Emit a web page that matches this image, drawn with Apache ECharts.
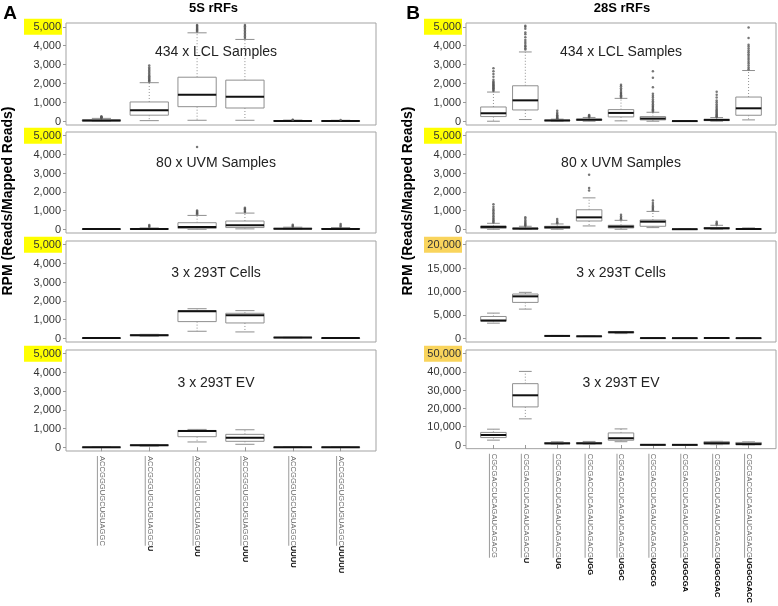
<!DOCTYPE html>
<html><head><meta charset="utf-8">
<script src="https://cdn.jsdelivr.net/npm/echarts@6/dist/echarts.min.js"></script>
<style>html,body{margin:0;padding:0;background:#fff}#c{width:778px;height:606px}</style>
</head><body><div id="c"></div>
<script>
const FONT = '"Liberation Sans", Arial, sans-serif';
const panelTitles = ['5S rRFs', '28S rRFs'];
const panelLetters = ['A', 'B'];
const yAxisTitle = 'RPM (Reads/Mapped Reads)';
const rowLabels = ['434 x LCL Samples', '80 x UVM Samples', '3 x 293T Cells', '3 x 293T EV'];

// category labels: common prefix + bold suffix
const prefixA = 'ACCGGGUGCUGUAGGC';
const suffixesA = ['', 'U', 'UU', 'UUU', 'UUUU', 'UUUUU'];
const prefixB = 'CGCGACCUCAGAUCAGACG';
const suffixesB = ['', 'U', 'UG', 'UGG', 'UGGC', 'UGGCG', 'UGGCGA', 'UGGCGAC', 'UGGCGACC'];

// tick labels
const ticks5k = [0, 1000, 2000, 3000, 4000, 5000];
const ticks20k = [0, 5000, 10000, 15000, 20000];
const ticks50k = [0, 10000, 20000, 30000, 40000, 50000];

// boxes: [lower whisker, Q1, median, Q3, upper whisker]
const A_LCL = [[0,10,40,70,150],[30,320,580,1020,2040],[50,770,1400,2330,4680],[50,700,1300,2175,4330],[0,5,15,30,60],[0,5,12,25,50]];
const A_LCL_out = [[170,190,210,230,260],[2100,2150,2200,2260,2320,2380,2450,2520,2600,2680,2760,2850,2950],[4750,4800,4850,4900,4950,5000,5050,5100],[4400,4480,4560,4640,4720,4800,4880,4950,5030,5100],[70,80],[60]];
const A_UVM = [[0,2,8,15,30],[0,5,15,30,70],[0,50,125,350,740],[20,90,210,440,865],[0,10,25,50,110],[0,8,20,40,90]];
const A_UVM_out = [[],[120,180,230],[800,850,900,950,1000,4400],[920,980,1050,1100,1150],[140,190,245],[130,200,280]];
const A_CELL = [[0,5,10,15,20],[110,140,165,190,210],[374,890,1440,1480,1580],[338,818,1228,1335,1477],[20,30,40,45,50],[0,5,10,15,20]];
const A_CELL_out = [[],[],[],[],[],[]];
const A_EV = [[0,2,5,8,10],[60,90,110,130,150],[283,565,866,900,954],[159,318,512,690,936],[0,3,6,10,15],[0,2,5,8,12]];
const A_EV_out = [[],[],[],[],[],[]];

const B_LCL = [[0,246,421,754,1544],[88,596,1105,1877,3667],[0,20,40,60,110],[0,50,80,110,200],[20,228,439,614,1210],[0,70,140,246,474],[0,3,8,15,30],[0,30,70,100,193],[70,316,684,1280,2684]];
const B_LCL_out = [
  [1600,1650,1700,1750,1800,1850,1900,1950,2000,2050,2100,2200,2350,2500,2650,2800],
  [3800,3860,3950,4000,4100,4200,4300,4450,4600,4700,4900,5000,5050],
  [130,160,200,240,280,320,380,450,560],
  [230,260,300,330],
  [1260,1320,1380,1440,1500,1560,1650,1750,1850,1930],
  [520,580,640,700,760,820,900,980,1060,1150,1250,1350,1450,1800,2300,2650],
  [],
  [220,260,300,350,400,460,520,580,650,720,800,900,1000,1100,1250,1400,1560],
  [2750,2850,2950,3050,3150,3250,3350,3450,3550,3650,3750,3850,3950,4050,4400,4960]];
const B_UVM = [[0,53,124,177,318],[0,10,35,70,160],[0,53,106,159,283],[177,442,636,1042,1678],[0,71,141,212,477],[88,159,406,495,954],[0,2,5,10,20],[0,20,53,88,212],[0,5,15,25,70]];
const B_UVM_out = [[360,420,480,550,620,700,780,860,940,1020,1100,1200,1343],[190,230,280,330,400,470,560,640],[320,380,450,548],[2070,2210,2915],[530,600,680,777],[1020,1080,1150,1220,1300,1400,1537],[],[260,320,406],[]];
const B_CELL = [[3226,3656,3800,4660,5376],[6236,7670,8960,9462,9820],[400,430,500,560,600],[400,410,430,440,450],[1000,1150,1290,1400,1450],[0,20,40,60,80],[0,10,30,50,70],[0,30,60,90,120],[0,10,30,50,70]];
const B_CELL_out = [[],[],[],[],[],[],[],[],[]];
const B_EV = [[2650,4064,5477,6890,8657],[14311,20848,27208,33569,40283],[530,700,883,1237,1767],[600,750,900,1300,1943],[1800,2600,3700,6600,8800],[0,50,100,150,200],[0,40,80,120,160],[200,400,1000,1800,2000],[100,150,500,1400,1700]];
const B_EV_out = [[],[],[],[],[],[],[],[],[]];

// ---------- layout & build ----------
const panels = [
  { left: 66, prefix: prefixA, suffixes: suffixesA, textX: 216,
    rows: [[A_LCL, A_LCL_out, ticks5k], [A_UVM, A_UVM_out, ticks5k], [A_CELL, A_CELL_out, ticks5k], [A_EV, A_EV_out, ticks5k]],
    hl: ['#ffff00', '#ffff00', '#ffff00', '#ffff00'] },
  { left: 466, prefix: prefixB, suffixes: suffixesB, textX: 621,
    rows: [[B_LCL, B_LCL_out, ticks5k], [B_UVM, B_UVM_out, ticks5k], [B_CELL, B_CELL_out, ticks20k], [B_EV, B_EV_out, ticks50k]],
    hl: ['#ffff00', '#ffff00', '#f9d45c', '#f9d45c'] }
];
const rowTops = [23, 132, 241, 350];
const rowH = 101;
const rowTextY = [52.5, 163, 273, 383];
const W = 310;

const fmt = v => String(v).replace(/\B(?=(\d{3})+(?!\d))/g, ',');
const LBL_FONT_SIZE = 7.6;
const measure = (() => { const c = document.createElement('canvas').getContext('2d'); return (t, f) => { c.font = f; return c.measureText(t).width; }; })();

function renderBox(params, api) {
  const x = api.value(0);
  const pts = [1, 2, 3, 4, 5].map(i => api.coord([x, api.value(i)]));
  const cx = pts[0][0];
  const bw = api.size([0.8, 0])[0];
  const hw = bw / 2, cw = bw / 4;
  const lo = pts[0][1], q1 = pts[1][1], md = pts[2][1], q3 = pts[3][1], hi = pts[4][1];
  const grey = '#8f8f8f';
  return { type: 'group', children: [
    { type: 'line', shape: { x1: cx, y1: q3, x2: cx, y2: hi }, style: { stroke: grey, lineWidth: 1, lineDash: [1, 2] } },
    { type: 'line', shape: { x1: cx, y1: q1, x2: cx, y2: lo }, style: { stroke: grey, lineWidth: 1, lineDash: [1, 2] } },
    { type: 'line', shape: { x1: cx - cw, y1: hi, x2: cx + cw, y2: hi }, style: { stroke: grey, lineWidth: 1 } },
    { type: 'line', shape: { x1: cx - cw, y1: lo, x2: cx + cw, y2: lo }, style: { stroke: grey, lineWidth: 1 } },
    { type: 'rect', shape: { x: cx - hw, y: q3, width: bw, height: Math.max(q1 - q3, 0.5) }, style: { fill: '#fff', stroke: grey, lineWidth: 1 } },
    { type: 'line', shape: { x1: cx - hw, y1: md, x2: cx + hw, y2: md }, style: { stroke: '#111', lineWidth: 2 } }
  ] };
}

const grids = [], xAxes = [], yAxes = [], series = [], graphics = [];
panels.forEach((p, pi) => {
  const n = p.suffixes.length;
  const pad = 0.5 + n * 0.04;
  const cats = p.suffixes.map((s, i) => i + 1);
  const prefW = measure(p.prefix, LBL_FONT_SIZE + 'px ' + FONT);
  p.rows.forEach((row, ri) => {
    const [boxes, outs, ticks] = row;
    const gi = grids.length;
    const tmax = ticks[ticks.length - 1];
    const ext = tmax * 0.04;
    grids.push({ left: p.left, top: rowTops[ri], width: W, height: ri === 0 ? rowH + 1 : rowH, show: true, borderColor: '#a3a3a3', borderWidth: 1, containLabel: false });
    const bottom = ri === 3;
    xAxes.push({
      type: 'value', gridIndex: gi, min: 1 - pad, max: n + pad,
      axisLine: { show: false }, splitLine: { show: false },
      axisTick: { show: bottom, length: 4, customValues: cats, lineStyle: { color: '#999' } },
      axisLabel: bottom ? {
        show: true, customValues: cats, rotate: -90, margin: 5,
        formatter: v => { const i = Math.round(v) - 1; const s = p.suffixes[i]; return '{p|' + p.prefix + '}' + (s ? '{s|' + s + '}' : '') + '\n{u|}'; },
        rich: {
          p: { fontSize: LBL_FONT_SIZE, fontFamily: FONT, color: '#666', lineHeight: 8 },
          s: { fontSize: LBL_FONT_SIZE, fontFamily: FONT, color: '#000', fontWeight: 'bold', lineHeight: 8 },
          u: { width: prefW, height: 1, lineHeight: 1, backgroundColor: '#9a9a9a' }
        }
      } : { show: false }
    });
    yAxes.push({
      type: 'value', gridIndex: gi, min: -ext, max: tmax + ext,
      axisLine: { show: false }, splitLine: { show: false },
      axisTick: { show: true, length: 3, customValues: ticks, lineStyle: { color: '#999' } },
      axisLabel: {
        show: true, customValues: ticks, margin: 4,
        formatter: v => (v === tmax ? '{h|' + fmt(v) + '}' : '{n|' + fmt(v) + '}'),
        rich: {
          n: { fontSize: 11, fontFamily: FONT, color: '#333', width: 36, align: 'right', padding: [3, 1, 2, 1], lineHeight: 13 },
          h: { fontSize: 11, fontFamily: FONT, color: '#333', width: 36, align: 'right', padding: [3, 1, 2, 1], lineHeight: 13, backgroundColor: p.hl[ri] }
        }
      }
    });
    series.push({
      type: 'custom', xAxisIndex: gi, yAxisIndex: gi, renderItem: renderBox,
      encode: { x: 0, y: [1, 2, 3, 4, 5] },
      data: boxes.map((b, i) => [i + 1].concat(b)), z: 2
    });
    const od = [];
    outs.forEach((arr, i) => arr.forEach(v => od.push([i + 1, v])));
    series.push({
      type: 'scatter', xAxisIndex: gi, yAxisIndex: gi, symbol: 'circle', symbolSize: 2.5,
      itemStyle: { color: '#555' }, data: od, z: 3, silent: true
    });
    graphics.push({ type: 'text', x: p.textX, y: rowTextY[ri], style: { text: rowLabels[ri], font: '14px ' + FONT, fill: '#222', textAlign: 'center', textVerticalAlign: 'middle' } });
  });
});

graphics.push(
  { type: 'text', x: 10, y: 14, style: { text: panelLetters[0], font: 'bold 19px ' + FONT, fill: '#000', textAlign: 'center', textVerticalAlign: 'middle' } },
  { type: 'text', x: 413, y: 14, style: { text: panelLetters[1], font: 'bold 19px ' + FONT, fill: '#000', textAlign: 'center', textVerticalAlign: 'middle' } },
  { type: 'text', x: 213.5, y: 8, style: { text: panelTitles[0], font: 'bold 13px ' + FONT, fill: '#000', textAlign: 'center', textVerticalAlign: 'middle' } },
  { type: 'text', x: 622, y: 8, style: { text: panelTitles[1], font: 'bold 13px ' + FONT, fill: '#000', textAlign: 'center', textVerticalAlign: 'middle' } },
  { type: 'text', x: 8, y: 201, rotation: Math.PI / 2, style: { text: yAxisTitle, font: 'bold 14px ' + FONT, fill: '#000', textAlign: 'center', textVerticalAlign: 'middle' } },
  { type: 'text', x: 408, y: 201, rotation: Math.PI / 2, style: { text: yAxisTitle, font: 'bold 14px ' + FONT, fill: '#000', textAlign: 'center', textVerticalAlign: 'middle' } }
);

const chart = echarts.init(document.getElementById('c'), null, { renderer: 'canvas' });
chart.setOption({
  animation: false,
  backgroundColor: '#fff',
  grid: grids, xAxis: xAxes, yAxis: yAxes, series: series, graphic: graphics
});
</script></body></html>
